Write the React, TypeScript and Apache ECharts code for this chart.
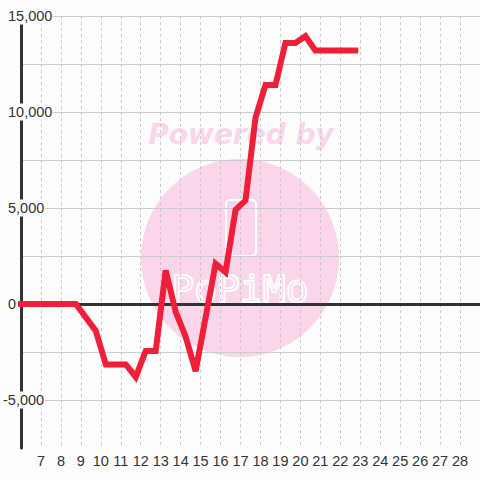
import React, { useEffect, useRef } from "react";
import * as echarts from "echarts";

const hours = [6, 8.75, 9.75, 10.25, 11.25, 11.75, 12.25, 12.75, 13.25, 13.75, 14.25, 14.75, 15.75, 16.25, 16.75, 17.25, 17.75, 18.25, 18.75, 19.25, 19.75, 20.25, 20.75, 22.75];
const values = [0, 0, -1400, -3150, -3150, -3800, -2450, -2450, 1750, -400, -1700, -3500, 2100, 1650, 4900, 5400, 9700, 11400, 11400, 13600, 13600, 13950, 13200, 13200];
const xTickLabels = ["7", "8", "9", "10", "11", "12", "13", "14", "15", "16", "17", "18", "19", "20", "21", "22", "23", "24", "25", "26", "27", "28"];
const yTickLabels = ["-5,000", "0", "5,000", "10,000", "15,000"];

export default function App() {
  const ref = useRef<HTMLDivElement>(null);
  useEffect(() => {
    if (!ref.current) return;
    const chart = echarts.init(ref.current, null, { renderer: "svg" });
    const font = "Liberation Sans, Arial, sans-serif";
    const pink = "#fbd6eb";
    chart.setOption({
      animation: false,
      backgroundColor: "#fdfdfd",
      grid: { left: 20, right: 0, top: 16, bottom: 32, containLabel: false },
      graphic: [
        {
          type: "circle",
          z: -10,
          silent: true,
          shape: { cx: 240, cy: 258, r: 99 },
          style: { fill: pink },
        },
        {
          type: "text",
          z: -10,
          silent: true,
          x: 241,
          y: 134,
          style: {
            text: "Powered by",
            fill: pink,
            font: "italic bold 28px 'DejaVu Sans'",
            align: "center",
            verticalAlign: "middle",
          },
        },
        {
          type: "rect",
          z: -9,
          silent: true,
          shape: { x: 226, y: 200, width: 30, height: 56, r: 4 },
          style: { fill: "none", stroke: "#ffffff", lineWidth: 2 },
        },
        {
          type: "text",
          z: -9,
          silent: true,
          x: 240,
          y: 289,
          style: {
            text: "PoPiMo",
            fill: "none",
            stroke: "#ffffff",
            lineWidth: 1.8,
            font: "38px 'DejaVu Sans Mono'",
            align: "center",
            verticalAlign: "middle",
          },
        },
      ],
      xAxis: {
        type: "value",
        min: 6,
        max: 29,
        interval: 1,
        axisLine: { show: false },
        axisTick: { show: false },
        axisLabel: {
          show: true,
          margin: 5,
          color: "#333",
          fontSize: 14.5,
          fontFamily: font,
          showMinLabel: false,
          showMaxLabel: false,
          formatter: (v: number) => {
            const s = String(Math.round(v));
            return xTickLabels.indexOf(s) >= 0 ? s : "";
          },
        },
        splitLine: {
          show: true,
          lineStyle: { color: "#c8c8c8", width: 1, type: [3, 3] },
        },
      },
      yAxis: {
        type: "value",
        min: -7500,
        max: 15000,
        interval: 2500,
        axisLine: { show: true, lineStyle: { color: "#333", width: 3 } },
        axisTick: { show: false },
        axisLabel: {
          show: true,
          align: "left",
          margin: 18,
          color: "#333",
          fontSize: 14.5,
          fontFamily: font,
          backgroundColor: "#fdfdfd",
          padding: [1, 1, 1, 0],
          formatter: (v: number) => {
            const s = Math.round(v).toLocaleString("en-US");
            if (yTickLabels.indexOf(s) < 0) return "";
            return v < 0 ? "{n|" + s + "}" : "{p|" + s + "}";
          },
          rich: {
            p: { padding: [0, 0, 0, 5], color: "#333", fontSize: 14.5, fontFamily: font },
            n: { color: "#333", fontSize: 14.5, fontFamily: font },
          },
        },
        splitLine: {
          show: true,
          showMinLine: false,
          lineStyle: { color: "#cccccc", width: 1, type: "solid" },
        },
      },
      series: [
        {
          type: "line",
          z: 3,
          data: [],
          silent: true,
          markLine: {
            silent: true,
            symbol: "none",
            label: { show: false },
            lineStyle: { color: "#333", width: 3, type: "solid" },
            data: [{ yAxis: 0 }],
          },
        },
        {
          type: "line",
          z: 10,
          data: hours.map((h, i) => [h, values[i]]),
          showSymbol: false,
          symbol: "none",
          clip: false,
          lineStyle: { color: "#ef1e39", width: 6, cap: "square", join: "miter" },
        },
      ],
    });
    return () => chart.dispose();
  }, []);
  return (
    <div
      ref={ref}
      style={{ position: "fixed", left: 0, top: 0, width: 480, height: 480 }}
    />
  );
}
